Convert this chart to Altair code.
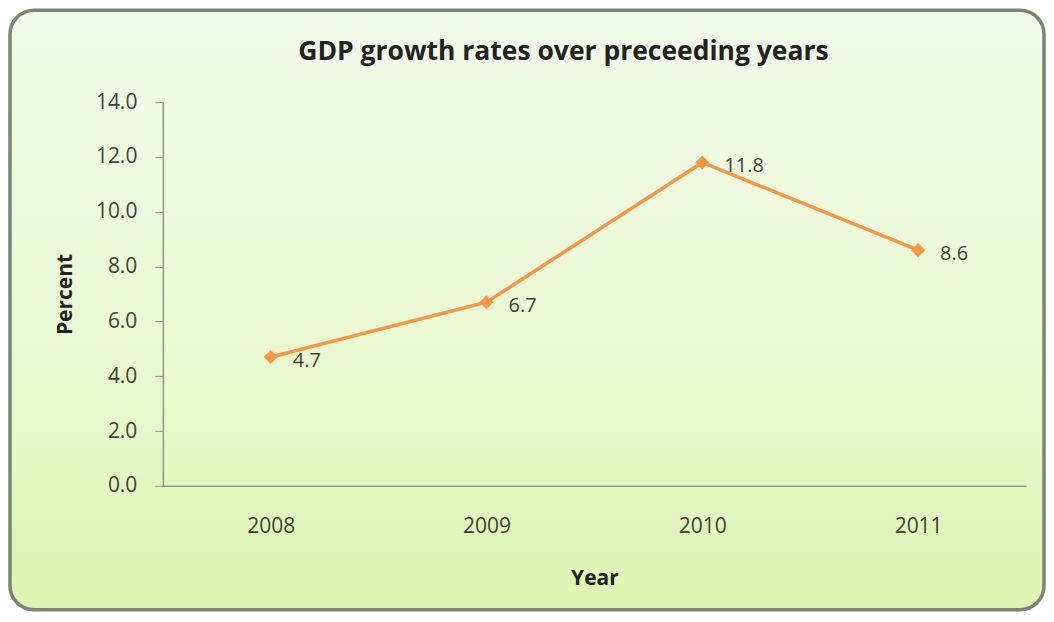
import altair as alt
import pandas as pd

years = ["2008", "2009", "2010", "2011"]
growth = [4.7, 6.7, 11.8, 8.6]
y_ticks = [0, 2, 4, 6, 8, 10, 12, 14]

df = pd.DataFrame({"Year": years, "Percent": growth})

FONT = "Open Sans"
ORANGE = "#f79646"
TEXT = "#3d4436"
AXIS = "#8c9a84"

bg = alt.Chart(alt.Data(values=[{"a": 1}])).mark_rect(
    fill=alt.LinearGradient(
        gradient="linear",
        stops=[
            alt.GradientStop(color="#f3faea", offset=0),
            alt.GradientStop(color="#ebf8d6", offset=0.5),
            alt.GradientStop(color="#ddf5b3", offset=1),
        ],
        x1=0, x2=0, y1=0, y2=1,
    ),
    stroke="#7c8474",
    strokeWidth=3.5,
    cornerRadius=24,
    clip=False,
).encode(
    x=alt.value(-153), x2=alt.value(882),
    y=alt.value(-92), y2=alt.value(508),
)

base = alt.Chart(df).encode(
    x=alt.X("Year:N", sort=years,
            scale=alt.Scale(type="point", padding=0.5),
            axis=alt.Axis(title="Year", labelAngle=0, tickSize=0, labelPadding=30,
                          titlePadding=31, labelFontSize=21, titleFontSize=21,
                          titleFontWeight="bold", labelColor=TEXT, titleColor="#222222",
                          domainColor=AXIS, domainWidth=1.5, labelFont=FONT, titleFont=FONT,
                          zindex=1)),
    y=alt.Y("Percent:Q", scale=alt.Scale(domain=[0, 14], nice=False),
            axis=alt.Axis(title="Percent", values=y_ticks, format=".1f", grid=False,
                          tickSize=8, tickColor=AXIS, labelPadding=18,
                          titlePadding=20, labelFontSize=21, titleFontSize=21,
                          titleFontWeight="bold", labelColor=TEXT, titleColor="#222222",
                          domainColor=AXIS, domainWidth=1.5, labelFont=FONT, titleFont=FONT,
                          zindex=1)),
)

line = base.mark_line(color=ORANGE, strokeWidth=3.5)
pts = base.mark_point(shape="diamond", filled=True, color=ORANGE, size=200, opacity=1)
labels = base.mark_text(align="left", dx=22, dy=4, fontSize=20, font=FONT, color=TEXT).encode(
    text=alt.Text("Percent:Q", format=".1f"))

chart = alt.layer(bg, line, pts, labels).properties(
    width=864, height=384,
    padding=0,
    title=alt.Title("GDP growth rates over preceeding years", fontSize=26.5, font=FONT,
                    fontWeight="bold", color="#222222", dx=-31, offset=-57, anchor="middle"),
).configure_view(stroke="transparent").configure(background="white")

chart.save("out.html", embed_options={"renderer": "svg", "actions": False})
